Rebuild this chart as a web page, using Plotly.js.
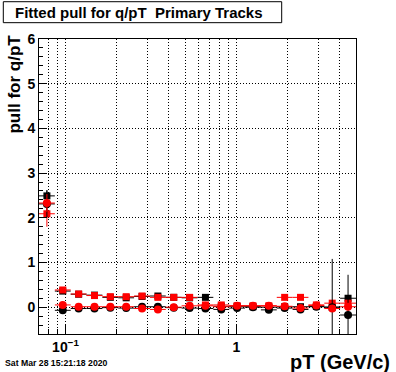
<!DOCTYPE html>
<html><head><meta charset="utf-8">
<script src="https://cdn.plot.ly/plotly-3.0.1.min.js"></script>
<style>html,body{margin:0;padding:0;background:#fff}</style>
</head><body><div id="chart" style="width:396px;height:372px"></div>
<script>
// pT bin centres and edges (GeV/c), 20 log bins
const ptCenters = [0.07786, 0.09641, 0.11937, 0.14778, 0.18296, 0.22649, 0.28040, 0.34710, 0.42968, 0.53189,
                   0.65837, 0.81491, 1.0087, 1.2485, 1.5460, 1.9133, 2.3687, 2.9326, 3.6299, 4.4931];
const ptLowEdges = [0.07, 0.08665, 0.10728, 0.13278, 0.16437, 0.20347, 0.25188, 0.31180, 0.38597, 0.47780,
                    0.59146, 0.73216, 0.90631, 1.1222, 1.3893, 1.7198, 2.1289, 2.6355, 3.2624, 4.0385];
const ptHighEdges = [0.08665, 0.10728, 0.13278, 0.16437, 0.20347, 0.25188, 0.31180, 0.38597, 0.47780, 0.59146,
                     0.73216, 0.90631, 1.1222, 1.3893, 1.7198, 2.1289, 2.6355, 3.2624, 4.0385, 5.0];

// series values (pull) and errors
const blackSquare    = [2.49, 0.36, 0.29, 0.27, 0.22, 0.21, 0.24, 0.25, 0.22, 0.21, 0.22, 0.02, 0.02, 0.01, 0.00, 0.01, 0.01, 0.02, 0.00, 0.20];
const blackSquareErr = [0.13, 0.03, 0.02, 0.02, 0.02, 0.02, 0.02, 0.02, 0.02, 0.02, 0.02, 0.02, 0.02, 0.02, 0.03, 0.03, 0.03, 0.04, 0.05, 0.06];
const redSquare      = [2.09, 0.385, 0.295, 0.26, 0.235, 0.235, 0.25, 0.22, 0.22, 0.22, 0.05, 0.05, 0.03, 0.03, 0.03, 0.22, 0.22, 0.05, 0.09, 0.09];
const redSquareErr   = [0.29, 0.03, 0.02, 0.02, 0.02, 0.02, 0.02, 0.02, 0.02, 0.02, 0.02, 0.02, 0.02, 0.02, 0.03, 0.03, 0.03, 0.04, 0.05, 0.06];
const blackCircle    = [2.31, -0.07, -0.03, -0.03, -0.01, -0.02, 0.01, 0.01, -0.01, -0.02, -0.03, -0.05, -0.02, 0.00, -0.06, -0.02, -0.05, 0.01, 0.00, -0.175];
const blackCircleErr = [0.30, 0.03, 0.02, 0.02, 0.02, 0.02, 0.02, 0.02, 0.02, 0.02, 0.02, 0.02, 0.02, 0.02, 0.03, 0.03, 0.03, 0.04, 1.08, 0.90];
const redCircle      = [2.33, 0.05, 0.01, 0.01, 0.01, 0.01, -0.03, -0.05, 0.00, 0.03, 0.03, 0.01, 0.03, 0.03, 0.03, 0.02, -0.02, 0.04, -0.03, 0.01];
const redCircleErr   = [0.20, 0.03, 0.02, 0.02, 0.02, 0.02, 0.02, 0.02, 0.02, 0.02, 0.02, 0.02, 0.02, 0.02, 0.03, 0.03, 0.03, 0.04, 0.05, 0.06];

const xMajorTicks = [0.1, 1];
const xMajorLabels = ['10<sup>\u22121</sup>', '1'];
const xMinorTicks = [0.08, 0.09, 0.2, 0.3, 0.4, 0.5, 0.6, 0.7, 0.8, 0.9, 2, 3, 4];

const titleText = 'Fitted pull for q/pT\u00a0 Primary Tracks';
const xTitle = 'pT (GeV/c)';
const yTitle = 'pull for q/pT';
const dateText = 'Sat Mar 28 15:21:18 2020';

const errPlus = ptHighEdges.map((h, i) => h - ptCenters[i]);
const errMinus = ptLowEdges.map((l, i) => ptCenters[i] - l);

function series(y, e, color, symbol, size) {
  return {
    type: 'scatter', mode: 'markers', x: ptCenters, y: y,
    marker: {color: color, symbol: symbol, size: size},
    error_y: {type: 'data', array: e, visible: true, color: color, thickness: 1, width: 0},
    error_x: {type: 'data', symmetric: false, array: errPlus, arrayminus: errMinus, visible: true, color: color, thickness: 1, width: 0},
    showlegend: false, hoverinfo: 'skip'
  };
}

const data = [
  series(blackSquare, blackSquareErr, '#000000', 'square', 7),
  series(redSquare, redSquareErr, '#ff0000', 'square', 7),
  series(blackCircle, blackCircleErr, '#000000', 'circle', 8),
  series(redCircle, redCircleErr, '#ff0000', 'circle', 8)
];

const FONT = 'Liberation Sans, Arial, Helvetica, sans-serif';
const DASH = '1px,2px';

const layout = {
  width: 396, height: 372,
  margin: {l: 39, r: 40, t: 39, b: 38, pad: 0},
  paper_bgcolor: '#ffffff', plot_bgcolor: '#ffffff',
  font: {family: FONT, color: '#000000'},
  xaxis: {
    type: 'log', range: [Math.log10(0.07), Math.log10(5)],
    tickmode: 'array', tickvals: xMajorTicks, ticktext: xMajorLabels,
    ticks: 'inside', ticklen: 9, tickwidth: 1, tickcolor: '#000',
    tickfont: {family: FONT, size: 14, weight: 'bold', color: '#000'},
    showgrid: true, gridcolor: '#000', gridwidth: 1, griddash: DASH,
    minor: {tickmode: 'array', tickvals: xMinorTicks, ticks: 'inside', ticklen: 5, tickwidth: 1, tickcolor: '#000',
            showgrid: true, gridcolor: '#000', gridwidth: 1, griddash: DASH},
    showline: true, linecolor: '#000', linewidth: 1, mirror: true, zeroline: false
  },
  yaxis: {
    range: [-0.6, 6], tickmode: 'linear', tick0: 0, dtick: 1,
    ticks: 'inside', ticklen: 8, tickwidth: 1, tickcolor: '#000',
    tickfont: {family: FONT, size: 14, weight: 'bold', color: '#000'},
    showgrid: true, gridcolor: '#000', gridwidth: 1, griddash: DASH,
    minor: {dtick: 0.2, tick0: 0, ticks: 'inside', ticklen: 4, tickwidth: 1, tickcolor: '#000', showgrid: false},
    showline: true, linecolor: '#000', linewidth: 1, mirror: true, zeroline: false
  },
  shapes: [
    {type: 'rect', xref: 'paper', yref: 'paper', x0: -0.1126, x1: 0.7656, y0: 1.0553, y1: 1.1264,
     line: {color: '#000', width: 1}, fillcolor: '#ffffff', layer: 'above'}
  ],
  annotations: [
    {text: titleText, xref: 'paper', yref: 'paper', x: -0.0811, y: 1.0915, xanchor: 'left', yanchor: 'middle',
     showarrow: false, font: {family: FONT, size: 15, weight: 'bold', color: '#000'}},
    {text: yTitle, xref: 'paper', yref: 'paper', x: -0.0757, y: 1.0203, xanchor: 'center', yanchor: 'top',
     textangle: -90, showarrow: false, font: {family: FONT, size: 17, weight: 'bold', color: '#000'}},
    {text: xTitle, xref: 'paper', yref: 'paper', x: 1.1136, y: -0.0949, xanchor: 'right', yanchor: 'middle',
     showarrow: false, font: {family: FONT, size: 20, weight: 'bold', color: '#000'}},
    {text: dateText, xref: 'paper', yref: 'paper', x: -0.1145, y: -0.0993, xanchor: 'left', yanchor: 'middle',
     showarrow: false, font: {family: FONT, size: 8.7, weight: 'bold', color: '#000'}}
  ]
};

Plotly.newPlot('chart', data, layout, {staticPlot: true, displayModeBar: false});
</script>
</body></html>
